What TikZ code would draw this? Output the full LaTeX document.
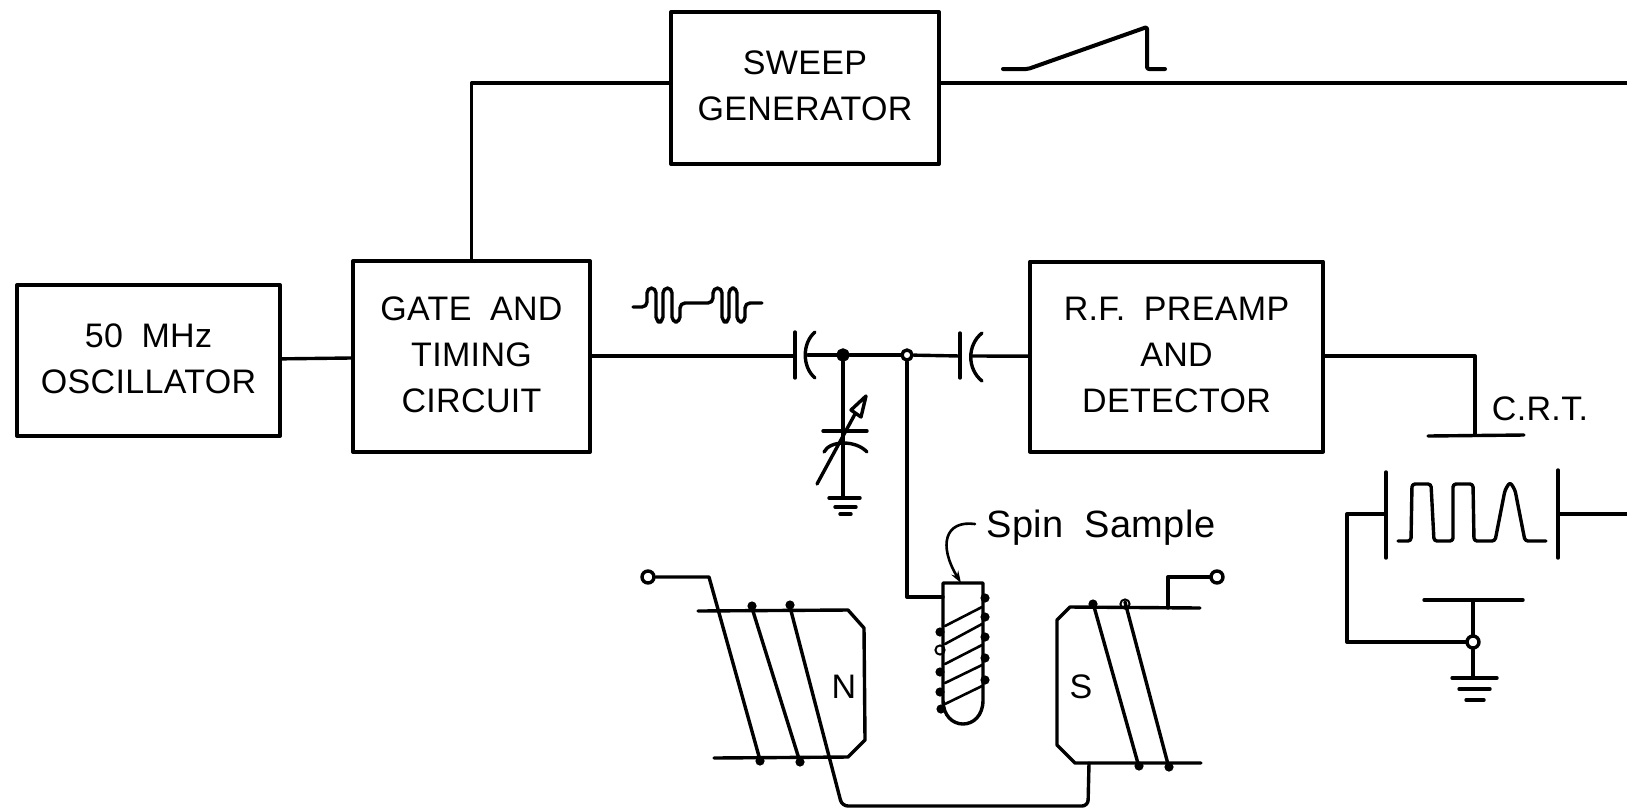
\documentclass[tikz,border=0pt]{standalone}
\usepackage{fontspec}
\setmainfont[WordSpace=1.9,LetterSpace=1]{Liberation Sans}
\usetikzlibrary{arrows.meta}

\begin{document}
\begin{tikzpicture}[x=0.5pt, y=-0.5pt, line width=1.7pt, line join=round, line cap=round,
                    main node/.style={rectangle,draw,line width=2pt,inner sep=0pt,align=center,text depth=2pt,font=\fontsize{17}{23}\selectfont},
                    text node/.style={inner sep=0pt,font=\fontsize{17}{23}\selectfont},
                    solid dot/.style={circle,draw,fill=black,inner sep=0pt,minimum size=5pt},
                    open dot/.style={circle,draw,fill=white,inner sep=0pt,minimum size=6pt}]

  \useasboundingbox (0,0) rectangle (1627,810);

  \node[main node,minimum width=131.5pt,minimum height=75.5pt] (osc) at (148.5,360.5) {50 MHz\\OSCILLATOR};
  \node[main node,minimum width=118.5pt,minimum height=95.5pt,node distance=161.5pt,yshift=2pt] (gate) [right of=osc] {GATE AND\\TIMING\\CIRCUIT};
  \node[main node,minimum width=146.5pt,minimum height=95pt,node distance=352.5pt] (preamp) [right of=gate] {R.F. PREAMP\\AND\\DETECTOR};
  \node[main node,minimum width=134pt,minimum height=76pt] (sweep) at (805,88) {SWEEP\\GENERATOR};

  \node[solid dot] (tune) at (843,355) {};
  \node[open dot,minimum size=5pt] (feed) at (907,355) {};
  \node[open dot] (termn) at (648,577) {};
  \node[open dot] (terms) at (1217,577) {};
  \node[open dot] (crtdot) at (1473,642) {};

  \node[text node] (crt) at (1540,409) {C.R.T.};
  \node[text node,font=\fontsize{19}{23}\selectfont,anchor=west] (spin) at (985,528) {Spin Sample};
  \node[text node] (north) at (844,687) {N};
  \node[text node] (south) at (1081,687) {S};

  \coordinate (sweepin) at (671,83);
  \coordinate (sweepout) at (939,83);
  \coordinate (sweepend) at (1627,83);
  \coordinate (capa) at (795,356);
  \coordinate (capb) at (808,355);
  \coordinate (capc) at (960,356);
  \coordinate (capd) at (971,356);
  \coordinate (tunegnd) at (843,498);
  \coordinate (crttop) at (1475,435);
  \coordinate (crtbot) at (1473,600);
  \coordinate (crtgnd) at (1473,678);
  \coordinate (crtleft) at (1386,514);
  \coordinate (crtright) at (1558,514);
  \coordinate (crtend) at (1627,514);
  \coordinate (samplein) at (943,597);
  \coordinate (sampletop) at (961,583);
  \coordinate (southin) at (1089,763);
  \coordinate (southtop) at (1168,608);

  \path (osc) edge (gate)
        (capb) edge (tune)
        (tune) edge (feed)
        (feed) edge (capc)
        (capd) edge (preamp)
        (sweepout) edge (sweepend)
        (tune) edge (tunegnd)
        (crtdot) edge (crtgnd)
        (crtbot) edge (crtdot)
        (crtright) edge (crtend);

  \draw[line width=2pt] (gate.east |- capa) -- (capa);
  \draw (gate.north) |- (sweepin);
  \draw (preamp.east |- capd) -| (crttop);
  \draw (feed) |- (samplein);
  \draw (crtleft) -- (1347,514) |- (crtdot);
  \draw (termn) -- (709,577) -- (760,760);
  \draw[rounded corners=3pt] (790,607) -- (842,806) -- (1088,806) -- (southin);
  \draw (terms) -| (southtop);
  \draw[-{Stealth[length=6pt,width=4pt]},line width=1.3pt] (spin.west) ++(-10,-4) .. controls (945,520) and (938,545) .. (sampletop);

  \draw (795,332) -- (795,378);
  \draw (815,332) .. controls (802,343) and (802,367) .. (815,378);
  \draw (960,333) -- (960,378);
  \draw (982,333) .. controls (967,345) and (967,369) .. (982,381);

  \draw (823,431) -- (867,431);
  \draw (824,452) .. controls (830,440) and (856,440) .. (867,452);
  \draw (817,484) -- (855,414);
  \draw[fill=white] (866,396) -- (851,410) -- (861,417) -- cycle;
  \draw (829,498) -- (860,498) (835,507) -- (856,507) (840,514) -- (851,514);

  \draw[rounded corners=2.5pt] (633,307) -- (647,307) -- (647,288) -- (656,288) -- (656,322) -- (663,322) -- (663,288) -- (672,288) -- (672,322) -- (680,322) -- (680,303) -- (713,303) -- (713,288) -- (722,288) -- (722,322) -- (729,322) -- (729,288) -- (737,288) -- (737,322) -- (745,322) -- (745,303) -- (762,303);
  \draw[line width=2pt,rounded corners=1pt] (1003,69) -- (1028,69) -- (1147,27) -- (1147,69) -- (1165,69);

  \draw (1428,436) -- (1524,435);
  \draw (1386,472) -- (1386,558);
  \draw (1558,470) -- (1558,558);
  \draw[rounded corners=1.5pt] (1398,541) -- (1411,541) -- (1412,484) -- (1431,484) -- (1434,541) -- (1453,541) -- (1453,484) -- (1473,484) -- (1474,541) -- (1495,541) -- (1505,490) -- (1510,482) -- (1515,490) -- (1525,541) -- (1546,541);
  \draw (1424,600) -- (1523,600);
  \draw (1452,678) -- (1497,678) (1459,689) -- (1490,689) (1466,700) -- (1484,700);

  \draw (698,611) -- (848,610) -- (864,628) -- (865,740) -- (848,757) -- (714,758);
  \draw (752,608) -- (800,762);
  \draw (1200,608) -- (1070,607) -- (1057,620) -- (1057,745) -- (1075,763) -- (1201,763);
  \draw (1093,603) -- (1139,767);
  \draw (1125,602) -- (1169,768);
  \fill (752,606) circle [radius=2.3pt] (790,605) circle [radius=2.3pt] (1093,604) circle [radius=2.3pt];
  \draw[line width=1pt] (1125,604) circle [radius=2.3pt];
  \fill (760,761) circle [radius=2.3pt] (800,762) circle [radius=2.3pt] (1139,766) circle [radius=2.3pt] (1169,767) circle [radius=2.3pt];

  \draw (samplein) -- (943,583) -- (983,583) -- (983,700) .. controls (983,732) and (943,732) .. (943,700) -- (samplein);
  \draw[line width=1.3pt] (945,626) -- (982,607) (945,644) -- (982,624) (945,664) -- (982,645) (945,683) -- (982,665) (945,704) -- (982,686);
  \fill (985,598) circle [radius=2.3pt] (985,617) circle [radius=2.3pt] (985,637) circle [radius=2.3pt] (985,658) circle [radius=2.3pt] (985,680) circle [radius=2.3pt];
  \fill (940,632) circle [radius=2.3pt] (940,672) circle [radius=2.3pt] (940,692) circle [radius=2.3pt] (941,709) circle [radius=2.3pt];
  \draw[line width=1pt] (940,650) circle [radius=2.3pt];

\end{tikzpicture}
\end{document}
